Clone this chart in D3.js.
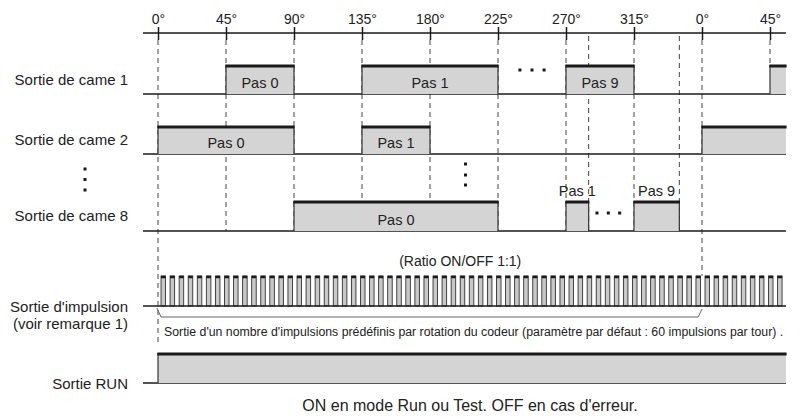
<!DOCTYPE html>
<html>
<head>
<meta charset="utf-8">
<script src="https://cdn.jsdelivr.net/npm/d3@7"></script>
<style>
  body { margin: 0; background: #fff; }
  text { font-family: "Liberation Sans", Arial, sans-serif; fill: #222; }
</style>
</head>
<body>
<div class="vis-timing"></div>
<script>
// angle ticks along the top (degrees, second turn continues past 360)
const degTicks = [0, 45, 90, 135, 180, 225, 270, 315, 360, 405];
const degLabels = ["0°", "45°", "90°", "135°", "180°", "225°", "270°", "315°", "0°", "45°"];
const extraGuides = [285, 345];

// cam outputs: [start, end, label]
const cam1 = [[45, 90, "Pas 0"], [135, 225, "Pas 1"], [270, 315, "Pas 9"], [405, 420, ""]];
const cam2 = [[0, 90, "Pas 0"], [135, 180, "Pas 1"], [360, 420, ""]];
const cam8 = [[90, 225, "Pas 0"], [270, 285, "Pas 1"], [315, 345, "Pas 9"]];
const cam8LabelAbove = [false, true, true];
const runOut = [[0, 420, ""]];

// pulse output : 60 pulses per turn, ON/OFF 1:1
const pulsesPerTurn = 60;
const pulseCount = 69;
const pulseOffset = 2;

const rowLabels = ["Sortie de came 1", "Sortie de came 2", "Sortie de came 8", "Sortie d'impulsion", "(voir remarque 1)", "Sortie RUN"];
const ratioText = "(Ratio ON/OFF 1:1)";
const noteText = "Sortie d'un nombre d'impulsions prédéfinis par rotation du codeur (paramètre par défaut : 60 impulsions par tour) .";
const runText = "ON en mode Run ou Test. OFF en cas d'erreur.";

const draw = () => {
  const W = 801, H = 420;
  const svg = d3.select(".vis-timing").append("svg")
    .attr("width", W).attr("height", H);

  const x = d3.scaleLinear().domain([0, 360]).range([158, 702]);
  const left = 143, right = 786;
  const fill = "#d4d4d4", dark = "#1a1a1a";

  const rows = [
    { data: cam1, base: 94, high: 65 },
    { data: cam2, base: 154, high: 126 },
    { data: cam8, base: 231, high: 201, above: cam8LabelAbove }
  ];
  const pulse = { base: 306, high: 276 };
  const run = { base: 383, high: 353 };

  // dashed guides
  const guides = degTicks.concat(extraGuides);
  const guideEnd = d => d === 0 ? 345 : d === 360 ? pulse.high : d === 405 ? rows[0].high : rows[2].base;
  svg.append("g").selectAll("line").data(guides).join("line")
    .attr("x1", d => x(d)).attr("x2", d => x(d))
    .attr("y1", d => extraGuides.includes(d) ? 36 : 40)
    .attr("y2", guideEnd)
    .attr("stroke", "#444").attr("stroke-width", 1)
    .attr("stroke-dasharray", "5,4");

  // top axis
  svg.append("line")
    .attr("x1", left).attr("x2", right).attr("y1", 33).attr("y2", 33)
    .attr("stroke", dark).attr("stroke-width", 1.5);
  const axis = svg.append("g").attr("transform", "translate(0,40)")
    .call(d3.axisTop(x).tickValues(degTicks).tickSize(13).tickPadding(3)
      .tickFormat((d, i) => degLabels[i]));
  axis.select(".domain").remove();
  axis.selectAll(".tick line").attr("stroke", dark).attr("stroke-width", 1.5);
  axis.selectAll(".tick text")
    .attr("font-family", "Liberation Sans, Arial, sans-serif")
    .attr("font-size", 14).attr("fill", "#222");

  const drawSignal = (g, data, base, high, above) => {
    g.append("line").attr("x1", left).attr("x2", right)
      .attr("y1", base).attr("y2", base)
      .attr("stroke", dark).attr("stroke-width", 1.5);
    data.forEach((s, i) => {
      const x0 = x(s[0]);
      const x1 = Math.min(x(s[1]), right);
      g.append("rect").attr("x", x0).attr("y", high)
        .attr("width", x1 - x0).attr("height", base - high).attr("fill", fill);
      g.append("line").attr("x1", x0).attr("x2", x0).attr("y1", high).attr("y2", base)
        .attr("stroke", "#333").attr("stroke-width", 1.2);
      if (x(s[1]) < right) {
        g.append("line").attr("x1", x1).attr("x2", x1).attr("y1", high).attr("y2", base)
          .attr("stroke", "#333").attr("stroke-width", 1.2);
      }
      g.append("line").attr("x1", x0 - 0.6).attr("x2", x1 + 0.6)
        .attr("y1", high + 1).attr("y2", high + 1)
        .attr("stroke", dark).attr("stroke-width", 3);
      if (s[2]) {
        const up = above && above[i];
        g.append("text").attr("x", (x0 + x1) / 2)
          .attr("y", up ? high - 5 : base - 6)
          .attr("text-anchor", "middle").attr("font-size", 14.5).text(s[2]);
      }
    });
  };

  rows.forEach(r => drawSignal(svg.append("g"), r.data, r.base, r.high, r.above));

  // pulses
  const pg = svg.append("g");
  const pulses = d3.range(pulseCount).map(i => pulseOffset + i * 360 / pulsesPerTurn);
  const onW = 360 / pulsesPerTurn / 2;
  pg.selectAll("rect").data(pulses).join("rect")
    .attr("x", d => x(d)).attr("y", pulse.high)
    .attr("width", d => x(d + onW) - x(d)).attr("height", pulse.base - pulse.high)
    .attr("fill", "#c8c8c8").attr("stroke", "#333").attr("stroke-width", 0.9);
  pg.selectAll("line.cap").data(pulses).join("line").attr("class", "cap")
    .attr("x1", d => x(d)).attr("x2", d => x(d + onW))
    .attr("y1", pulse.high + 1).attr("y2", pulse.high + 1)
    .attr("stroke", dark).attr("stroke-width", 2.5);
  pg.append("line").attr("x1", left).attr("x2", right)
    .attr("y1", pulse.base).attr("y2", pulse.base)
    .attr("stroke", dark).attr("stroke-width", 1.5);

  // bracket under one turn
  svg.append("path")
    .attr("d", d3.line()([[x(-0.7), 308], [x(2), 317], [x(357.5), 317], [x(360), 309]]))
    .attr("fill", "none").attr("stroke", "#666").attr("stroke-width", 1);

  drawSignal(svg.append("g"), runOut, run.base, run.high, null);

  // ellipsis dots
  const dots = svg.append("g").attr("fill", dark);
  [-8, 0, 8].forEach(o => dots.append("rect")
    .attr("x", x(247.5 + o) - 1.5).attr("y", 68.5).attr("width", 3).attr("height", 3));
  [-7.5, 0, 7.5].forEach(o => dots.append("rect")
    .attr("x", x(298 + o) - 1.5).attr("y", 211.5).attr("width", 3).attr("height", 3));
  [164, 175, 185].forEach(y => dots.append("rect")
    .attr("x", x(203.5) - 1.5).attr("y", y - 1.5).attr("width", 3).attr("height", 3));
  [169, 179.5, 190].forEach(y => dots.append("rect")
    .attr("x", 83.5).attr("y", y - 1.5).attr("width", 3).attr("height", 3));

  // row labels
  const labelY = [85, 145, 221, 312, 329, 389];
  svg.append("g").selectAll("text").data(rowLabels).join("text")
    .attr("x", 128).attr("y", (d, i) => labelY[i])
    .attr("text-anchor", "end").attr("font-size", 15).text(d => d);

  svg.append("text").attr("x", x(200)).attr("y", 266)
    .attr("text-anchor", "middle").attr("font-size", 14).text(ratioText);
  svg.append("text").attr("x", x(4)).attr("y", 336)
    .attr("font-size", 12.3).text(noteText);
  svg.append("text").attr("x", 470).attr("y", 411)
    .attr("text-anchor", "middle").attr("font-size", 16).text(runText);
};

draw();
</script>
</body>
</html>
